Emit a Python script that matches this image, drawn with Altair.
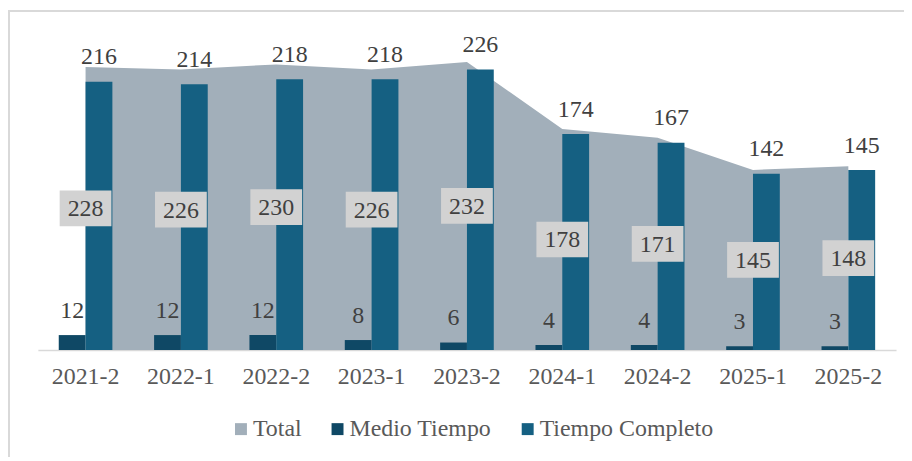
import altair as alt
import pandas as pd

periodos = ["2021-2", "2022-1", "2022-2", "2023-1", "2023-2", "2024-1", "2024-2", "2025-1", "2025-2"]
total = [228, 226, 230, 226, 232, 178, 171, 145, 148]
medio_tiempo = [12, 12, 12, 8, 6, 4, 4, 3, 3]
tiempo_completo = [216, 214, 218, 218, 226, 174, 167, 142, 145]

series = ["Total", "Medio Tiempo", "Tiempo Completo"]
colores = ["#A2AFBA", "#0F4865", "#156082"]

wide = pd.DataFrame({
    "periodo": periodos,
    "Total": total,
    "Medio Tiempo": medio_tiempo,
    "Tiempo Completo": tiempo_completo,
})
long = wide.melt(id_vars="periodo", var_name="serie", value_name="valor")

FONT = "Liberation Serif"
FS = 24
W, H = 900, 450
BASE = 342.5
TOP = 30.75

xscale = alt.Scale(domain=periodos, range=[30, 892], paddingInner=0.4375, paddingOuter=0.219)
yscale = alt.Scale(domain=[0, 250], range=[BASE, TOP], nice=False, zero=True)
offscale = alt.Scale(domain=["Medio Tiempo", "Tiempo Completo"], paddingInner=0, paddingOuter=0)
colscale = alt.Scale(domain=series, range=colores)

xaxis = alt.Axis(
    title=None, labelAngle=0, ticks=False, tickSize=0, grid=False,
    labelFont=FONT, labelFontSize=FS, labelColor="#595959", labelPadding=15,
    domainColor="#D9D9D9", domainWidth=1.5, offset=-(H - BASE), labelOverlap=False,
)

legend = alt.Legend(
    title=None, orient="none", legendX=222, legendY=410, direction="horizontal",
    symbolType="square", symbolSize=144, symbolStrokeWidth=0,
    labelFont=FONT, labelFontSize=FS, labelColor="#595959", labelOffset=0,
    columnPadding=24, labelLimit=400,
)

base = alt.Chart(long)

area = base.transform_filter(alt.datum.serie == "Total").mark_area(opacity=1).encode(
    x=alt.X("periodo:N", scale=xscale, axis=xaxis, sort=periodos, bandPosition=0.5),
    y=alt.Y("valor:Q", scale=yscale, axis=None),
    color=alt.Color("serie:N", scale=colscale, legend=legend, sort=series),
)

bars_data = base.transform_filter(alt.datum.serie != "Total")

bars = bars_data.mark_bar().encode(
    x=alt.X("periodo:N", scale=xscale, axis=xaxis, sort=periodos),
    xOffset=alt.XOffset("serie:N", scale=offscale),
    y=alt.Y("valor:Q", scale=yscale, axis=None),
    color=alt.Color("serie:N", scale=colscale, legend=legend, sort=series),
)

bar_labels = bars_data.mark_text(
    font=FONT, fontSize=FS, color="#404040", baseline="alphabetic", dy=-17.5
).encode(
    x=alt.X("periodo:N", scale=xscale, axis=xaxis, sort=periodos),
    xOffset=alt.XOffset("serie:N", scale=offscale),
    y=alt.Y("valor:Q", scale=yscale, axis=None),
    text=alt.Text("valor:Q"),
)

tot = alt.Chart(wide).transform_calculate(mitad="datum.Total / 2")

boxes = tot.mark_point(
    shape="M-1,-0.69L1,-0.69L1,0.69L-1,0.69Z", filled=True, size=2704,
    color="#D2D2D2", opacity=1, strokeWidth=0,
).encode(
    x=alt.X("periodo:N", scale=xscale, axis=xaxis, sort=periodos),
    y=alt.Y("mitad:Q", scale=yscale, axis=None),
)

tot_labels = tot.mark_text(
    font=FONT, fontSize=FS, color="#404040", baseline="middle", dy=1
).encode(
    x=alt.X("periodo:N", scale=xscale, axis=xaxis, sort=periodos),
    y=alt.Y("mitad:Q", scale=yscale, axis=None),
    text=alt.Text("Total:Q"),
)

one = pd.DataFrame({"a": [0]})
frame_left = alt.Chart(one).mark_rule(color="#D9D9D9", strokeWidth=2).encode(
    x=alt.value(1), y=alt.value(2), y2=alt.value(H)
)
frame_top = alt.Chart(one).mark_rule(color="#D9D9D9", strokeWidth=2).encode(
    x=alt.value(0), x2=alt.value(W), y=alt.value(2)
)

chart = alt.layer(
    area, bars, bar_labels, boxes, tot_labels, frame_left, frame_top
).properties(
    width=W, height=H, autosize=alt.AutoSizeParams(type="none"), padding=0,
    background="white",
).configure_view(stroke=None)

chart.save("out.html", embed_options={"renderer": "svg", "actions": False})
